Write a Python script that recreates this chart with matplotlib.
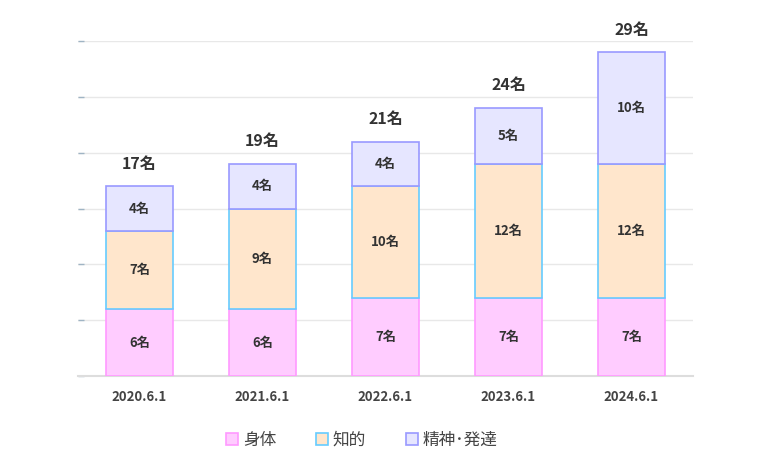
import numpy as np
import matplotlib
matplotlib.use('Agg')
import matplotlib.pyplot as plt
from matplotlib.patches import Patch

plt.rcParams['font.family'] = ['Noto Sans CJK JP', 'DejaVu Sans']

categories = ['2020.6.1', '2021.6.1', '2022.6.1', '2023.6.1', '2024.6.1']
series_names = ['身体', '知的', '精神･発達']
shintai = [6, 6, 7, 7, 7]
chiteki = [7, 9, 10, 12, 12]
seishin = [4, 4, 4, 5, 10]
totals = [17, 19, 21, 24, 29]

fills = ['#FFCCFF', '#FFE6CC', '#E6E6FF']
edges = ['#FF99FF', '#66CCFF', '#9999FF']

fig = plt.figure(figsize=(7.6, 4.7), dpi=100)
ax = fig.add_axes([78 / 760, 1 - 376 / 470, (693 - 78) / 760, (376 - 41) / 470])

x = np.arange(len(categories))
width = 0.54
bottom = np.zeros(len(categories))
for vals, fc, ec in zip([shintai, chiteki, seishin], fills, edges):
    vals = np.array(vals)
    ax.bar(x, vals, width, bottom=bottom, color=fc, edgecolor=ec, linewidth=1.2, zorder=3)
    for xi, b, v in zip(x, bottom, vals):
        ax.text(xi, b + v / 2, f'{v}名', ha='center', va='center',
                fontsize=9.5, fontweight='bold', color='#333333', zorder=4)
    bottom += vals

for xi, t in zip(x, totals):
    ax.text(xi, t + 1.3, f'{t}名', ha='center', va='bottom',
            fontsize=11.5, fontweight='bold', color='#333333')

ax.set_xlim(-0.5, len(categories) - 0.5)
ax.set_ylim(0, 30)
ax.set_yticks(np.arange(0, 31, 5))
ax.set_yticklabels([])
ax.yaxis.grid(True, color='#e8e8e8', linewidth=1, zorder=0)
ax.tick_params(axis='y', direction='in', length=4, color='#9fb4c4', width=1)
ax.tick_params(axis='x', length=0, pad=10)
ax.set_xticks(x)
ax.set_xticklabels(categories, fontsize=9.5, fontweight='bold', color='#444444')

for s in ['top', 'right', 'left']:
    ax.spines[s].set_visible(False)
ax.spines['bottom'].set_color('#dddddd')
ax.spines['bottom'].set_linewidth(1.5)

handles = [Patch(facecolor=fc, edgecolor=ec, linewidth=1.2) for fc, ec in zip(fills, edges)]
fig.legend(handles, series_names, loc='center', bbox_to_anchor=(362 / 760, 1 - 440 / 470),
           ncol=3, frameon=False, fontsize=12, handlelength=0.7, handleheight=0.7,
           handletextpad=0.3, columnspacing=2.4, labelcolor='#444444')

fig.savefig('out.png', dpi=100)
